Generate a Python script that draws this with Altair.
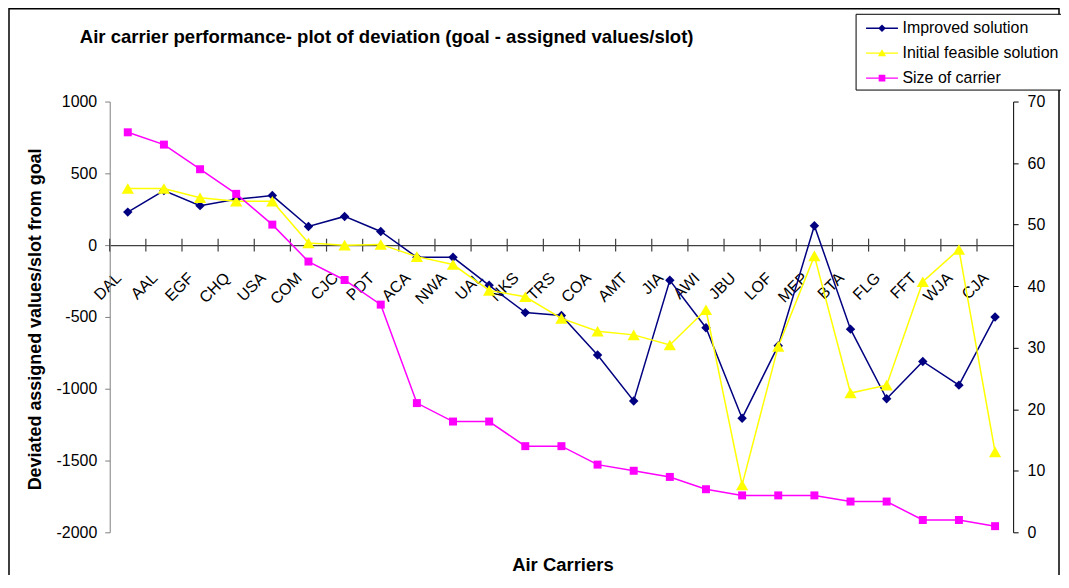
import altair as alt
import pandas as pd

carriers = ["DAL", "AAL", "EGF", "CHQ", "USA", "COM", "CJC", "PDT", "ACA", "NWA",
            "UAL", "NKS", "TRS", "COA", "AMT", "JIA", "AWI", "JBU", "LOF", "MEP",
            "BTA", "FLG", "FFT", "WJA", "CJA"]
improved = [230, 380, 275, 320, 345, 130, 200, 95, -85, -85,
            -280, -470, -490, -765, -1085, -245, -575, -1205, -700, 135,
            -585, -1070, -810, -975, -500]
initial = [395, 395, 330, 305, 305, 15, 0, 5, -80, -135,
           -315, -360, -510, -600, -625, -695, -450, -1670, -705, -75,
           -1030, -975, -255, -30, -1440]
size = [65, 63, 59, 55, 50, 44, 41, 37, 21, 18,
        18, 14, 14, 11, 10, 9, 7, 6, 6, 6,
        5, 5, 2, 2, 1]

series_names = ["Improved solution", "Initial feasible solution", "Size of carrier"]
series_colors = ["#000080", "#FFFF00", "#FF00FF"]
left_ticks = [-2000, -1500, -1000, -500, 0, 500, 1000]
right_ticks = [0, 10, 20, 30, 40, 50, 60, 70]

FONT = "Liberation Sans"
W, H = 906, 432

df = pd.DataFrame({"carrier": carriers, "improved": improved,
                   "initial": initial, "size": size})
base = alt.Chart(df)

xscale = alt.Scale(type="band", paddingInner=0, paddingOuter=0)
x_axis = alt.Axis(labelAngle=315, labelAlign="right", labelBaseline="middle",
                  labelFontSize=16, labelPadding=30, labelOffset=-9,
                  ticks=False, domainColor="#404040", domainWidth=1.2,
                  offset=-288, grid=False, labelColor="black",
                  title="Air Carriers", titleFontSize=18.5, titleFontWeight="bold",
                  titleX=454, titleY=326, titleBaseline="alphabetic",
                  titleColor="black")
x_enc = alt.X("carrier:N", sort=carriers, scale=xscale, axis=x_axis, title="Air Carriers")

left_scale = alt.Scale(domain=[-2000, 1000], nice=False, zero=False)
left_axis = alt.Axis(values=left_ticks, grid=False, tickSize=5, labelPadding=8,
                     labelExpr="datum.value + ''",
                     domainColor="#808080", tickColor="#808080",
                     labelFontSize=16, labelColor="black",
                     titleFontSize=18, titleFontWeight="bold", titleColor="black",
                     titleX=-69, titleY=218, titleAngle=270, titleAlign="center",
                     titleBaseline="alphabetic")
ytitle = "Deviated assigned values/slot from goal"

ticks = base.mark_rule(color="#404040", strokeWidth=1.2).encode(
    x=alt.X("carrier:N", sort=carriers, scale=xscale, axis=x_axis,
            title="Air Carriers", bandPosition=0),
    y=alt.datum(-45, scale=left_scale, axis=left_axis, title=ytitle),
    y2=alt.datum(45),
)
imp_line = base.mark_line(color=series_colors[0], strokeWidth=1.5).encode(
    x=x_enc, y=alt.Y("improved:Q", scale=left_scale, axis=left_axis, title=ytitle))
imp_pts = base.mark_point(shape="diamond", filled=True, size=90, opacity=1,
                          color=series_colors[0]).encode(
    x=x_enc, y=alt.Y("improved:Q", scale=left_scale, axis=left_axis, title=ytitle))
ini_line = base.mark_line(color=series_colors[1], strokeWidth=1.5).encode(
    x=x_enc, y=alt.Y("initial:Q", scale=left_scale, axis=left_axis, title=ytitle))
ini_pts = base.mark_point(shape="triangle-up", filled=True, size=150, opacity=1,
                          color=series_colors[1]).encode(
    x=x_enc, y=alt.Y("initial:Q", scale=left_scale, axis=left_axis, title=ytitle))

left_group = alt.layer(ticks, imp_line, imp_pts, ini_line, ini_pts)

right_scale = alt.Scale(domain=[0, 70], nice=False, zero=False)
right_axis = alt.Axis(orient="right", values=right_ticks, grid=False, tickSize=5,
                      labelPadding=9, domainColor="black", tickColor="black",
                      labelFontSize=16, labelColor="black", title=None)
size_line = base.mark_line(color=series_colors[2], strokeWidth=1.5).encode(
    x=x_enc, y=alt.Y("size:Q", scale=right_scale, axis=right_axis))
size_pts = base.mark_point(shape="square", filled=True, size=64, opacity=1,
                           color=series_colors[2]).encode(
    x=x_enc, y=alt.Y("size:Q", scale=right_scale, axis=right_axis))
right_group = alt.layer(size_line, size_pts)

legend_paths = [
    "M-1.39,-0.055L1.39,-0.055L1.39,0.055L-1.39,0.055Z M0,-0.33L0.33,0L0,0.33L-0.33,0Z",
    "M-1.39,-0.055L1.39,-0.055L1.39,0.055L-1.39,0.055Z M0,-0.34L0.36,0.26L-0.36,0.26Z",
    "M-1.39,-0.055L1.39,-0.055L1.39,0.055L-1.39,0.055Z M-0.29,-0.29L0.29,-0.29L0.29,0.29L-0.29,0.29Z",
]
leg = alt.Legend(orient="none", legendX=748, legendY=-88, title=None,
                 fillColor="white", strokeColor="black", padding=3,
                 symbolSize=529, rowPadding=5, symbolStrokeWidth=0,
                 symbolOffset=12, labelOffset=9, labelFontSize=16,
                 labelFont=FONT, labelColor="black", cornerRadius=0)
legend_df = pd.DataFrame({"series": series_names})
legend_layer = alt.Chart(legend_df).mark_point(filled=True, opacity=1).encode(
    color=alt.Color("series:N", scale=alt.Scale(domain=series_names, range=series_colors), legend=leg),
    shape=alt.Shape("series:N", scale=alt.Scale(domain=series_names, range=legend_paths), legend=leg),
).transform_filter("false")

frame = alt.Chart(pd.DataFrame({"a": [0]})).mark_rect(
    fillOpacity=0, stroke="black", strokeWidth=1.5).encode(
    x=alt.value(-101), x2=alt.value(W + 46), y=alt.value(-93), y2=alt.value(H + 80))

chart = alt.layer(frame, left_group, right_group, legend_layer).resolve_scale(
    y="independent"
).properties(
    width=W, height=H,
    padding={"left": 102, "top": 93, "right": 48, "bottom": 42},
    autosize=alt.AutoSizeParams(type="none"),
    title=alt.TitleParams(text="Air carrier performance- plot of deviation (goal - assigned values/slot)",
                          anchor="start", frame="group", dx=-30, offset=0, dy=54,
                          fontSize=18.6, fontWeight="bold", font=FONT, color="black",
                          baseline="alphabetic"),
).configure_view(stroke=None).configure_axis(
    labelFont=FONT, titleFont=FONT
).configure_legend(labelFont=FONT)

chart.save("out.html", embed_options={"renderer": "svg", "actions": False})
